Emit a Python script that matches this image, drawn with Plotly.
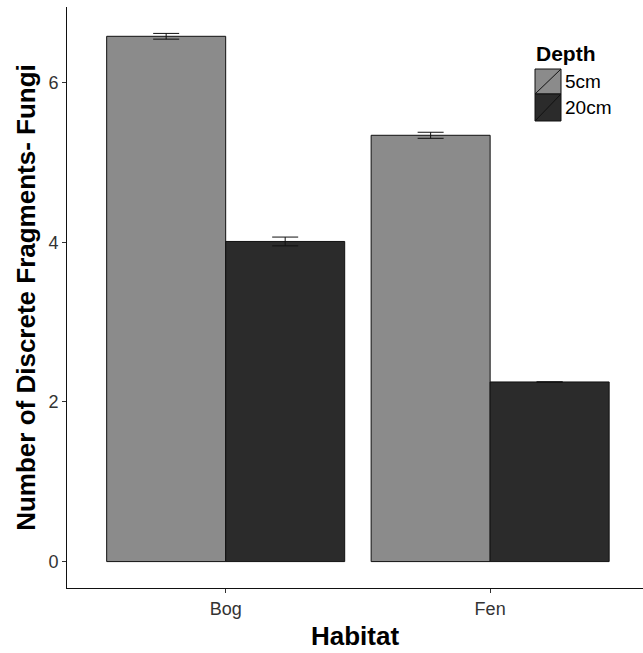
import plotly.graph_objects as go

# Data: mean number of discrete fragments (fungi) by habitat and depth
habitats = ["Bog", "Fen"]
depths = ["5cm", "20cm"]
means_5cm = [6.58, 5.34]
means_20cm = [4.01, 2.25]
se_5cm = [0.036, 0.038]
se_20cm = [0.055, 0.0]
y_ticks = [0, 2, 4, 6]

fill_colors = {"5cm": "#8b8b8b", "20cm": "#2b2b2b"}
FONT = "Liberation Sans, Arial, sans-serif"

W, H = 643, 653
L, R, T, B = 67, 0, 7, 65

fig = go.Figure()
for name, means, se in [("5cm", means_5cm, se_5cm), ("20cm", means_20cm, se_20cm)]:
    fig.add_trace(go.Bar(
        x=habitats, y=means, name=name,
        marker=dict(color=fill_colors[name], line=dict(color="#111111", width=1)),
        error_y=dict(type="data", array=se, visible=True, color="#111111",
                     thickness=1, width=13),
        showlegend=False,
    ))

fig.update_layout(
    width=W, height=H,
    margin=dict(l=L, r=R, t=T, b=B),
    paper_bgcolor="white", plot_bgcolor="white",
    barmode="group", bargap=0.1, bargroupgap=0,
    font=dict(family=FONT, color="#333333"),
    xaxis=dict(
        range=[-0.6, 1.578], showgrid=False, zeroline=False,
        showline=True, linecolor="#111111", linewidth=1,
        ticks="outside", ticklen=4, tickcolor="#333333",
        tickfont=dict(size=18, color="#333333"),
        title=dict(text="<b>Habitat</b>", font=dict(size=26, color="#000000"), standoff=9),
    ),
    yaxis=dict(
        range=[-0.331, 6.947], showgrid=False, zeroline=False,
        showline=True, linecolor="#111111", linewidth=1,
        tickvals=y_ticks, ticktext=[str(v) for v in y_ticks],
        ticks="outside", ticklen=4, tickcolor="#333333",
        tickfont=dict(size=18, color="#333333"),
        title=dict(text="<b>Number of Discrete Fragments- Fungi</b>",
                   font=dict(size=26, color="#000000"), standoff=5),
    ),
)

# Legend drawn in paper coordinates (pixel helpers relative to plot area)
pw, ph = W - L - R, H - T - B


def px(x):
    return (x - L) / pw


def py(y):
    return 1 - (y - T) / ph


key_x0, key_x1 = 535, 561
key_rows = [(69, 94), (94, 121)]
for name, (y0, y1) in zip(depths, key_rows):
    fig.add_shape(type="rect", xref="paper", yref="paper",
                  x0=px(key_x0), x1=px(key_x1), y0=py(y1), y1=py(y0),
                  fillcolor=fill_colors[name], line=dict(color="#111111", width=1))
    fig.add_shape(type="line", xref="paper", yref="paper",
                  x0=px(key_x0), x1=px(key_x1), y0=py(y1), y1=py(y0),
                  line=dict(color="#111111", width=1))
    fig.add_annotation(xref="paper", yref="paper", x=px(563), y=py((y0 + y1) / 2),
                       text=name, showarrow=False, xanchor="left", yanchor="middle",
                       font=dict(size=19, color="#000000", family=FONT))

fig.add_annotation(xref="paper", yref="paper", x=px(534), y=py(54),
                   text="<b>Depth</b>", showarrow=False, xanchor="left", yanchor="middle",
                   font=dict(size=21, color="#000000", family=FONT))

fig.write_html("out.html")
